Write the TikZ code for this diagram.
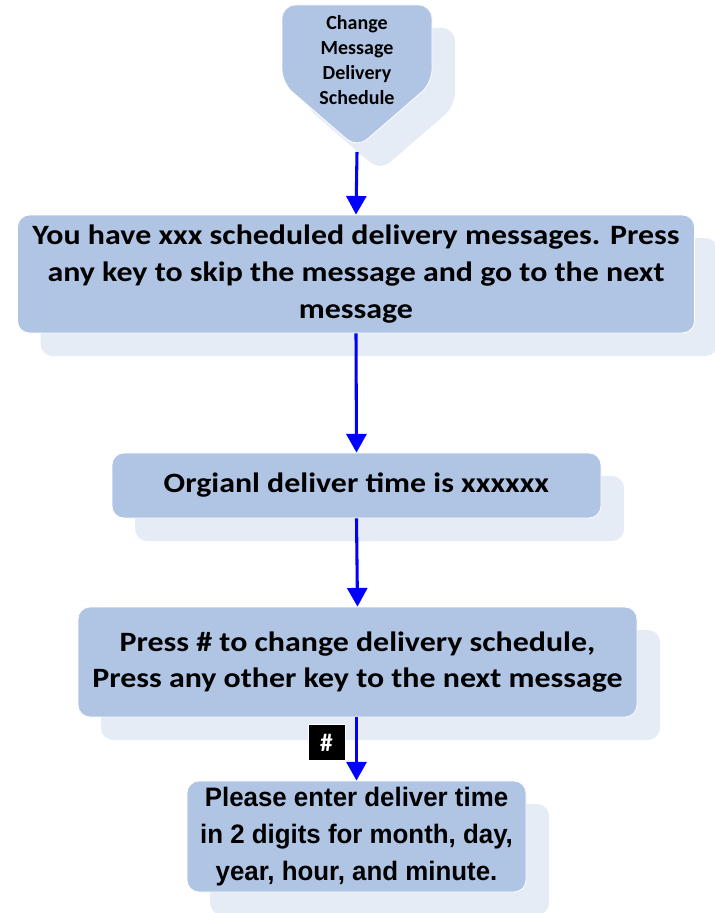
\documentclass[tikz,border=0pt]{standalone}
\usepackage{fontspec}
\setmainfont{Carlito}
\newfontfamily\widefont{Carlito}[FakeStretch=1.14]
\newfontfamily\narrowfont{Liberation Sans}[FakeStretch=0.97]
\usetikzlibrary{arrows.meta,shadows}
\definecolor{boxblue}{HTML}{B0C4E4}
\definecolor{shadeblue}{HTML}{E6ECF6}
\definecolor{flowblue}{HTML}{0000FF}
\tikzset{
  stepbox/.style={rectangle, rounded corners=9pt, fill=boxblue, draw=white, line width=0.6pt,
    inner sep=0pt, align=center, font=\widefont\bfseries\fontsize{21}{27.6}\selectfont,
    drop shadow={shadow xshift=17.25pt, shadow yshift=-17.25pt, fill=shadeblue, opacity=1}},
  flow/.style={draw=flowblue, line width=2.3pt, -{Triangle[width=15pt,length=14pt]}},
  keytag/.style={rectangle, fill=black, draw=white, line width=0.6pt, text=white, inner sep=0pt,
    minimum width=27.75pt, minimum height=27pt, font=\bfseries\fontsize{19}{20}\selectfont}
}
\begin{document}
\begin{tikzpicture}[x=0.75pt, y=-0.75pt]
\useasboundingbox (0,0) rectangle (714,913);
% start pentagon with its offset shadow
\fill[shadeblue, rounded corners=10pt] (305,28) -- (455,28) -- (455,106) -- (380,171) -- (305,106) -- cycle;
\filldraw[fill=boxblue, draw=white, line width=0.6pt, rounded corners=10pt] (282,5) -- (432,5) -- (432,83) -- (357,148) -- (282,83) -- cycle;
\node[align=center, font=\bfseries\fontsize{15}{18.7}\selectfont] (start) at (357,60) {Change\\Message\\Delivery\\Schedule};
\coordinate (tip) at (357,152);

\node[stepbox, minimum width=507.75pt, minimum height=88.5pt] (count) at (356,274)
  {You have xxx scheduled delivery messages. Press\\any key to skip the message and go to the next\\message};
\node[stepbox, minimum width=366.75pt, minimum height=48.75pt] (orig) at (356.5,485.5)
  {Orgianl deliver time is xxxxxx};
\node[stepbox, minimum width=419.25pt, minimum height=82.5pt] (press) at (357.5,662)
  {Press \# to change delivery schedule,\\Press any other key to the next message};
\node[stepbox, minimum width=254.25pt, minimum height=83.25pt, font=\narrowfont\bfseries\fontsize{20}{27.5}\selectfont] (enter) at (356.5,836.5)
  {Please enter deliver time\\in 2 digits for month, day,\\year, hour, and minute.};

\draw[flow] (tip) -- (count.north);
\draw[flow] (count.south) -- (orig.north);
\draw[flow] (orig.south) -- (press.north);
\draw[flow] (press.south -| enter.north) -- (enter.north);
\node[keytag] (hash) at (326.5,742.5) {\#};
\end{tikzpicture}
\end{document}
